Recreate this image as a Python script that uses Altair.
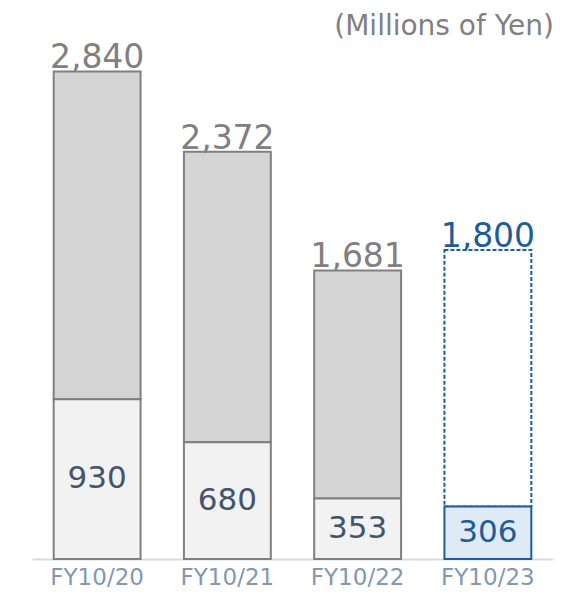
import altair as alt
import pandas as pd

years = ["FY10/20", "FY10/21", "FY10/22", "FY10/23"]
totals = [2840, 2372, 1681, 1800]
bases = [930, 680, 353, 306]
forecast = [False, False, False, True]
total_labels = ["2,840", "2,372", "1,681", "1,800"]
base_labels = ["930", "680", "353", "306"]
unit_title = "(Millions of Yen)"

df = pd.DataFrame({
    "year": years,
    "total": totals,
    "base": bases,
    "forecast": forecast,
    "total_label": total_labels,
    "base_label": base_labels,
})
df["zero"] = 0
df["mid"] = df["base"] / 2

FONT = "DejaVu Sans"
GRAY = "#808080"
BLUE = "#1F5C99"

x = alt.X("year:N", sort=years, title=None,
          scale=alt.Scale(paddingInner=0.333, paddingOuter=0.1665),
          axis=alt.Axis(labelAngle=0, labelColor="#8497B0", labelFontSize=23,
                        labelFont=FONT, ticks=False, domainColor="#D6DCE4",
                        domainWidth=2, labelBaseline="alphabetic", labelPadding=25))
yscale = alt.Scale(domain=[0, 3000], nice=False)

base = alt.Chart(df)

actual = base.transform_filter("!datum.forecast")
fc = base.transform_filter("datum.forecast")

top_act = actual.mark_bar(fill="#D4D4D4", stroke=GRAY, strokeWidth=2).encode(
    x=x, y=alt.Y("base:Q", scale=yscale, axis=None), y2="total:Q")
bot_act = actual.mark_bar(fill="#F2F2F2", stroke=GRAY, strokeWidth=2).encode(
    x=x, y=alt.Y("zero:Q", scale=yscale, axis=None), y2="base:Q")
top_fc = fc.mark_bar(fill="white", stroke=BLUE, strokeWidth=2, strokeDash=[4, 2]).encode(
    x=x, y=alt.Y("base:Q", scale=yscale, axis=None), y2="total:Q")
bot_fc = fc.mark_bar(fill="#DEEBF7", stroke=BLUE, strokeWidth=2).encode(
    x=x, y=alt.Y("zero:Q", scale=yscale, axis=None), y2="base:Q")

total_text = base.mark_text(font=FONT, fontSize=33, baseline="alphabetic", dy=-3).encode(
    x=x, y=alt.Y("total:Q", scale=yscale, axis=None), text="total_label:N",
    color=alt.condition("datum.forecast", alt.value(BLUE), alt.value(GRAY)))
base_text = base.mark_text(font=FONT, fontSize=31, baseline="middle").encode(
    x=x, y=alt.Y("mid:Q", scale=yscale, axis=None), text="base_label:N",
    color=alt.condition("datum.forecast", alt.value(BLUE), alt.value("#44546A")))

title_text = alt.Chart(pd.DataFrame({"t": [unit_title]})).mark_text(
    font=FONT, fontSize=28, align="right", baseline="alphabetic", color=GRAY
).encode(text="t:N", x=alt.value(522), y=alt.value(-9))

chart = alt.layer(top_act, bot_act, top_fc, bot_fc, total_text, base_text, title_text).properties(
    width=521, height=515,
    autosize=alt.AutoSizeParams(type="none"),
    padding={"left": 24, "top": 36, "right": 2, "bottom": 31},
).configure_view(stroke=None)

chart.save("out.html", embed_options={"renderer": "svg", "actions": False})
